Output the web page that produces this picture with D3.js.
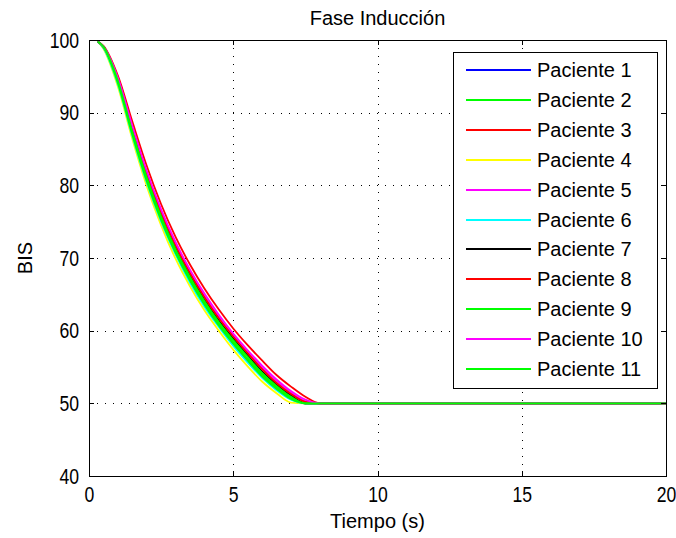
<!DOCTYPE html>
<html>
<head>
<meta charset="utf-8">
<script src="https://cdn.jsdelivr.net/npm/d3@7"></script>
<style>
  body { margin: 0; background: #fff; }
  text { font-family: "Liberation Sans", Arial, sans-serif; fill: #000; }
</style>
</head>
<body>
<div id="chart"></div>
<script>
// time points (s) shared by all patients
const tiempo = [0.3, 0.5, 1, 1.5, 2, 2.5, 3, 3.5, 4, 4.5, 5, 5.5, 6, 6.5, 7, 7.5, 8, 20];

// BIS per patient
const paciente1 = [99.8, 99.0, 94.1, 87.0, 80.6, 75.2, 70.7, 66.9, 63.6, 60.7, 58.2, 55.9, 53.7, 52.0, 50.6, 50.0, 50, 50];
const paciente2 = [99.8, 99.0, 94.2, 87.2, 80.9, 75.4, 70.9, 67.1, 63.8, 60.9, 58.4, 56.1, 54.0, 52.2, 50.8, 50.0, 50, 50];
const paciente3 = [99.8, 99.2, 95.1, 88.8, 82.7, 77.4, 72.9, 69.1, 65.8, 62.9, 60.3, 58.0, 55.9, 53.9, 52.3, 50.9, 50, 50];
const paciente4 = [99.8, 98.8, 93.6, 86.4, 79.9, 74.5, 69.9, 66.1, 62.8, 60.0, 57.4, 55.1, 53.0, 51.4, 50.1, 50.0, 50, 50];
const paciente5 = [99.8, 99.1, 94.7, 88.0, 81.8, 76.4, 71.9, 68.1, 64.8, 61.9, 59.4, 57.1, 54.9, 53.1, 51.5, 50.3, 50, 50];
const paciente6 = [99.8, 98.9, 93.9, 86.8, 80.4, 75.0, 70.5, 66.6, 63.3, 60.5, 57.9, 55.6, 53.5, 51.8, 50.5, 50.0, 50, 50];
const paciente7 = [99.8, 99.1, 94.5, 87.6, 81.3, 75.9, 71.4, 67.6, 64.3, 61.4, 58.9, 56.6, 54.4, 52.6, 51.1, 50.0, 50, 50];
const paciente8 = [99.8, 99.1, 94.6, 87.8, 81.5, 76.2, 71.7, 67.9, 64.6, 61.7, 59.2, 56.9, 54.7, 52.8, 51.3, 50.2, 50, 50];
const paciente9 = [99.8, 99.0, 94.1, 87.0, 80.6, 75.2, 70.7, 66.9, 63.6, 60.7, 58.2, 55.9, 53.7, 52.0, 50.6, 50.0, 50, 50];
const paciente10 = [99.8, 99.1, 94.8, 88.2, 82.0, 76.7, 72.2, 68.4, 65.1, 62.2, 59.6, 57.3, 55.2, 53.3, 51.7, 50.5, 50, 50];
const paciente11 = [99.8, 99.1, 94.4, 87.4, 81.1, 75.7, 71.2, 67.4, 64.1, 61.2, 58.7, 56.4, 54.2, 52.4, 50.9, 50.0, 50, 50];

const nombres = ["Paciente 1", "Paciente 2", "Paciente 3", "Paciente 4", "Paciente 5", "Paciente 6",
  "Paciente 7", "Paciente 8", "Paciente 9", "Paciente 10", "Paciente 11"];
const colores = ["#0000ff", "#00ff00", "#ff0000", "#ffff00", "#ff00ff", "#00ffff",
  "#000000", "#ff0000", "#00ff00", "#ff00ff", "#00ff00"];
const series = [paciente1, paciente2, paciente3, paciente4, paciente5, paciente6,
  paciente7, paciente8, paciente9, paciente10, paciente11];

const xTicks = [0, 5, 10, 15, 20];
const yTicks = [40, 50, 60, 70, 80, 90, 100];

let width = 676,
  height = 538,
  margin = { top: 40, right: 10, bottom: 62, left: 89 };

const svg = d3
  .select("#chart")
  .append("svg")
  .attr("width", width)
  .attr("height", height);

let x = d3.scaleLinear().domain([0, 20]).range([margin.left, width - margin.right]);
let y = d3.scaleLinear().domain([40, 100]).range([height - margin.bottom, margin.top]);

const innerW = width - margin.left - margin.right;
const innerH = height - margin.top - margin.bottom;

// dotted grid
svg.append("g")
  .attr("transform", `translate(0,${margin.top})`)
  .call(d3.axisBottom(x).tickValues([5, 10, 15]).tickSize(innerH).tickFormat(""))
  .call((g) => g.select(".domain").remove())
  .selectAll("line")
  .attr("stroke", "#000")
  .attr("stroke-dasharray", "1,7")
  .attr("shape-rendering", "crispEdges");

svg.append("g")
  .attr("transform", `translate(${margin.left},0)`)
  .call(d3.axisRight(y).tickValues([50, 60, 70, 80, 90]).tickSize(innerW).tickFormat(""))
  .call((g) => g.select(".domain").remove())
  .selectAll("line")
  .attr("stroke", "#000")
  .attr("stroke-dasharray", "1,7")
  .attr("shape-rendering", "crispEdges");

// curves
let line = d3
  .line()
  .x((d) => x(d[0]))
  .y((d) => y(d[1]))
  .curve(d3.curveMonotoneX);

series.forEach((vals, i) => {
  svg.append("path")
    .datum(tiempo.map((t, j) => [t, vals[j]]))
    .attr("fill", "none")
    .attr("stroke", colores[i])
    .attr("stroke-width", 1.8)
    .attr("d", line);
});

// axes box with inward ticks
function styleAxis(g) {
  g.selectAll("path, line").attr("stroke", "#000").attr("shape-rendering", "crispEdges");
  g.selectAll("text")
    .attr("font-size", 20)
    .attr("font-family", null)
    .attr("transform", "scale(0.88,1.1)"); // taller, narrower digits like the original
}

svg.append("g")
  .attr("transform", `translate(0,${height - margin.bottom})`)
  .call(d3.axisBottom(x).tickValues(xTicks).tickSize(-5).tickSizeOuter(0).tickPadding(9.5))
  .call(styleAxis);

svg.append("g")
  .attr("transform", `translate(0,${margin.top})`)
  .call(d3.axisTop(x).tickValues(xTicks).tickSize(-5).tickSizeOuter(0).tickFormat(""))
  .call(styleAxis);

svg.append("g")
  .attr("transform", `translate(${margin.left},0)`)
  .call(d3.axisLeft(y).tickValues(yTicks).tickSize(-5).tickSizeOuter(0).tickPadding(11.4))
  .call(styleAxis);

svg.append("g")
  .attr("transform", `translate(${width - margin.right},0)`)
  .call(d3.axisRight(y).tickValues(yTicks).tickSize(-5).tickSizeOuter(0).tickFormat(""))
  .call(styleAxis);

// labels
svg.append("text")
  .text("Fase Inducción")
  .attr("x", x(10))
  .attr("y", 25)
  .attr("text-anchor", "middle")
  .attr("font-size", 20);

svg.append("text")
  .text("Tiempo (s)")
  .attr("x", x(10))
  .attr("y", 528)
  .attr("text-anchor", "middle")
  .attr("font-size", 20);

svg.append("text")
  .text("BIS")
  .attr("transform", `translate(32,${y(70)}) rotate(-90)`)
  .attr("text-anchor", "middle")
  .attr("font-size", 20);

// legend
const legend = svg.append("g").attr("transform", "translate(453,52)");

legend.append("rect")
  .attr("x", 0.5)
  .attr("y", 0.5)
  .attr("width", 204)
  .attr("height", 336)
  .attr("fill", "#fff")
  .attr("stroke", "#000");

nombres.forEach((name, i) => {
  const ly = Math.round(18 + i * 29.9);
  legend.append("line")
    .attr("x1", 13)
    .attr("x2", 78)
    .attr("y1", ly)
    .attr("y2", ly)
    .attr("stroke", colores[i])
    .attr("stroke-width", 2);
  legend.append("text")
    .text(name)
    .attr("x", 84)
    .attr("y", ly)
    .attr("dy", "0.36em")
    .attr("font-size", 20);
});
</script>
</body>
</html>
